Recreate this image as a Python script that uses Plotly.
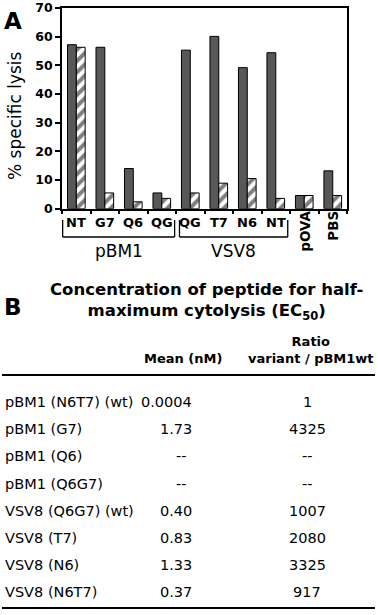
import plotly.graph_objects as go

W, H = 378, 615

# ---- Panel A data ----
categories = ["pBM1 NT", "pBM1 G7", "pBM1 Q6", "pBM1 QG", "VSV8 QG", "VSV8 T7",
              "VSV8 N6", "VSV8 NT", "pOVA", "PBS"]
tick_labels = ["NT", "G7", "Q6", "QG", "QG", "T7", "N6", "NT", "pOVA", "PBS"]
solid_values = [57.2, 56.3, 14.0, 5.5, 55.3, 60.1, 49.2, 54.4, 4.6, 13.2]
hatched_values = [56.3, 5.5, 2.4, 3.6, 5.5, 8.9, 10.5, 3.6, 4.6, 4.6]
y_ticks = [0, 10, 20, 30, 40, 50, 60, 70]
group_labels = ["pBM1", "VSV8"]

# ---- Panel B data ----
row_labels = ["pBM1 (N6T7) (wt)", "pBM1 (G7)", "pBM1 (Q6)", "pBM1 (Q6G7)",
              "VSV8 (Q6G7) (wt)", "VSV8 (T7)", "VSV8 (N6)", "VSV8 (N6T7)"]
mean_nM = ["0.0004", "1.73", "--", "--", "0.40", "0.83", "1.33", "0.37"]
ratio = ["1", "4325", "--", "--", "1007", "2080", "3325", "917"]

FONT = "DejaVu Sans"


def px(x):
    return x / W


def py(y):
    return 1 - y / H


fig = go.Figure()
fig.add_trace(go.Bar(
    x=categories, y=solid_values, name="solid",
    marker=dict(color="#585858", line=dict(color="black", width=1)),
))
fig.add_trace(go.Bar(
    x=categories, y=hatched_values, name="hatched",
    marker=dict(color="white", line=dict(color="black", width=1),
                pattern=dict(shape="/", fgcolor="black", bgcolor="white",
                             size=8, solidity=0.5)),
))

x0p, x1p = 62, 347
y_top, y_bot = 8, 208.7

fig.update_layout(
    width=W, height=H, autosize=False,
    margin=dict(l=0, r=0, t=0, b=0, pad=0),
    paper_bgcolor="white", plot_bgcolor="white",
    showlegend=False,
    barmode="group", bargap=0.38, bargroupgap=0,
    xaxis=dict(domain=[px(x0p), px(x1p)], type="category", automargin=False,
               showline=True, linecolor="black", linewidth=1.5, mirror=True,
               ticks="outside", tickson="boundaries", ticklen=4,
               tickcolor="black", tickwidth=1.5,
               showticklabels=False, showgrid=False, zeroline=False),
    yaxis=dict(domain=[py(y_bot), py(y_top)], range=[0, 70], automargin=False,
               tickvals=y_ticks, ticks="outside", ticklen=5,
               tickcolor="black", tickwidth=1.5, ticklabeloverflow="allow",
               showline=True, linecolor="black", linewidth=1.5, mirror=True,
               showgrid=False, zeroline=False,
               tickfont=dict(family=FONT, size=12.5, color="black", weight="bold")),
)

ann = []
# x tick labels
for i, lab in enumerate(tick_labels):
    if lab in ("pOVA", "PBS"):
        ann.append(dict(x=i, xref="x", y=py(209), yref="paper", text=lab,
                        textangle=-90, showarrow=False, xanchor="center", yanchor="top",
                        font=dict(family=FONT, size=13.5, color="black", weight="bold")))
    else:
        ann.append(dict(x=i, xref="x", y=py(223), yref="paper", text=lab,
                        showarrow=False, xanchor="center", yanchor="middle",
                        font=dict(family=FONT, size=13, color="black", weight="bold")))

# group labels and brackets
shapes = []
brackets = [(-0.48, 3.45), (3.62, 7.42)]
for (b0, b1), g in zip(brackets, group_labels):
    for xx in (b0, b1):
        shapes.append(dict(type="line", xref="x", yref="paper", x0=xx, x1=xx,
                           y0=py(220), y1=py(237), line=dict(color="black", width=1.3)))
    shapes.append(dict(type="line", xref="x", yref="paper", x0=b0, x1=b1,
                       y0=py(237), y1=py(237), line=dict(color="black", width=1.3)))
    ann.append(dict(x=(b0 + b1) / 2, xref="x", y=py(251), yref="paper", text=g,
                    showarrow=False, xanchor="center", yanchor="middle",
                    font=dict(family=FONT, size=17, color="black")))

# y axis title
ann.append(dict(x=px(15), y=py(116), xref="paper", yref="paper",
                text="% specific lysis", textangle=-90, showarrow=False,
                xanchor="center", yanchor="middle",
                font=dict(family=FONT, size=17, color="black")))

# panel letters
ann.append(dict(x=px(13), y=py(21), xref="paper", yref="paper", text="A",
                showarrow=False, xanchor="center", yanchor="middle",
                font=dict(family=FONT, size=23, color="black", weight="bold")))
ann.append(dict(x=px(13), y=py(307), xref="paper", yref="paper", text="B",
                showarrow=False, xanchor="center", yanchor="middle",
                font=dict(family=FONT, size=23, color="black", weight="bold")))

# table title (two lines)
ann.append(dict(x=px(206), y=py(302), xref="paper", yref="paper",
                text="Concentration of peptide for half-<br>maximum cytolysis (EC<sub>50</sub>)",
                showarrow=False, xanchor="center", yanchor="middle", align="center",
                font=dict(family=FONT, size=16.5, color="black", weight="bold")))

# headers
hfont = dict(family=FONT, size=13, color="black", weight="bold")
ann.append(dict(x=px(183), y=py(358), xref="paper", yref="paper", text="Mean (nM)",
                showarrow=False, xanchor="center", yanchor="middle", font=hfont))
ann.append(dict(x=px(311), y=py(350), xref="paper", yref="paper",
                text="Ratio<br>variant / pBM1wt",
                showarrow=False, xanchor="center", yanchor="middle", align="center",
                font=hfont))

# rules
shapes.append(dict(type="line", xref="paper", yref="paper", x0=px(2), x1=px(375),
                   y0=py(375), y1=py(375), line=dict(color="black", width=2.2)))
shapes.append(dict(type="line", xref="paper", yref="paper", x0=px(2), x1=px(375),
                   y0=py(608), y1=py(608), line=dict(color="black", width=2.2)))

# rows
rfont = dict(family=FONT, size=14.5, color="black")
for i, (lab, m, r) in enumerate(zip(row_labels, mean_nM, ratio)):
    yy = py(402 + 27.2 * i)
    ann.append(dict(x=px(3), y=yy, xref="paper", yref="paper", text=lab,
                    showarrow=False, xanchor="left", yanchor="middle", font=rfont))
    if m == "--":
        ann.append(dict(x=px(181), y=yy, xref="paper", yref="paper", text=m,
                        showarrow=False, xanchor="center", yanchor="middle", font=rfont))
    else:
        ann.append(dict(x=px(194), y=yy, xref="paper", yref="paper", text=m,
                        showarrow=False, xanchor="right", yanchor="middle", font=rfont))
    ann.append(dict(x=px(307), y=yy, xref="paper", yref="paper", text=r,
                    showarrow=False, xanchor="center", yanchor="middle", font=rfont))

fig.update_layout(annotations=ann, shapes=shapes)
fig.write_html("out.html", config={"displayModeBar": False},
               post_script="document.body.style.margin='0';document.body.style.overflow='hidden';")
